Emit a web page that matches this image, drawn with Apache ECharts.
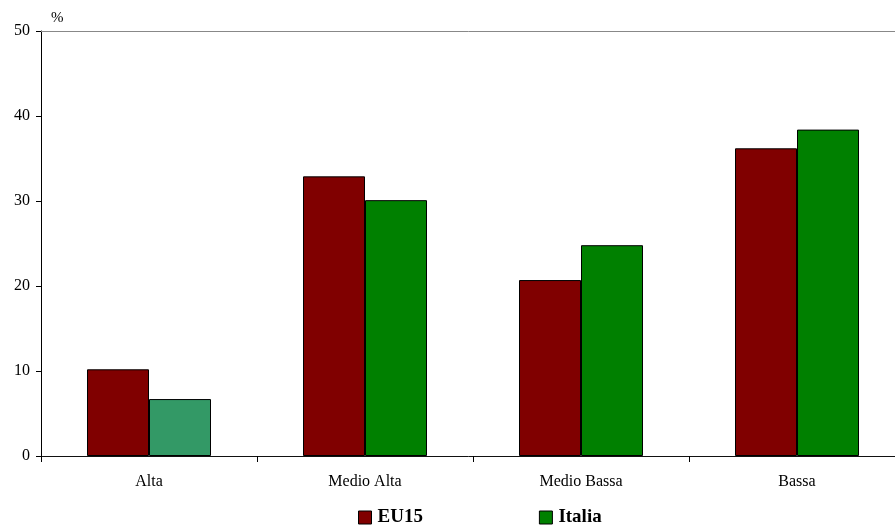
<!DOCTYPE html>
<html>
<head>
<meta charset="utf-8">
<script src="https://cdn.jsdelivr.net/npm/echarts@6/dist/echarts.min.js"></script>
<style>
  html, body { margin: 0; padding: 0; background: #fff; }
  #chart { width: 895px; height: 525px; }
</style>
</head>
<body>
<div id="chart"></div>
<script>
// Quote per livello tecnologico (%)
const categories = ['Alta', 'Medio Alta', 'Medio Bassa', 'Bassa'];
const eu15 = [10.2, 32.9, 20.7, 36.2];
const italia = [6.7, 30.1, 24.8, 38.4];
const yTicks = [0, 10, 20, 30, 40, 50];

const font = '"Liberation Serif", "Times New Roman", serif';
const chart = echarts.init(document.getElementById('chart'));

chart.setOption({
  animation: false,
  backgroundColor: '#ffffff',
  // plot area runs slightly past the right edge of the canvas
  grid: { left: 41, width: 864, top: 31, height: 425, containLabel: false, outerBoundsMode: 'none' },
  legend: {
    top: 503,
    left: 353,
    itemWidth: 13,
    itemHeight: 13,
    itemGap: 116,
    icon: 'rect',
    textStyle: { fontFamily: font, fontSize: 19, fontWeight: 'bold', color: '#000', padding: [0, 0, 0, 1] },
    itemStyle: { borderColor: '#000', borderWidth: 1 },
    data: ['EU15', 'Italia']
  },
  xAxis: [{
    type: 'category',
    data: categories,
    axisLine: { lineStyle: { color: '#111', width: 1 } },
    axisTick: { show: true, alignWithLabel: false, length: 6, lineStyle: { color: '#000' } },
    axisLabel: { fontFamily: font, fontSize: 16, color: '#000', margin: 18 }
  }, {
    type: 'category',
    position: 'top',
    data: categories,
    axisLine: { show: true, lineStyle: { color: '#888', width: 1 } },
    axisTick: { show: false },
    axisLabel: { show: false }
  }],
  yAxis: {
    type: 'value',
    min: 0,
    max: 50,
    interval: 10,
    name: '%',
    nameLocation: 'end',
    nameGap: 5,
    nameTextStyle: { fontFamily: font, fontSize: 15, color: '#000', align: 'left', padding: [0, 0, 0, 10] },
    axisLine: { show: true, lineStyle: { color: '#000', width: 1 } },
    axisTick: { show: true, inside: false, length: 5, lineStyle: { color: '#000' } },
    axisLabel: {
      fontFamily: font, fontSize: 16, color: '#000', margin: 11,
      formatter: v => (yTicks.indexOf(v) >= 0 ? String(v) : '')
    },
    splitLine: { show: false }
  },
  series: [{
    name: 'EU15',
    type: 'bar',
    data: eu15,
    barWidth: 62,
    barGap: '0%',
    itemStyle: { color: '#800000', borderColor: '#000', borderWidth: 1 }
  }, {
    name: 'Italia',
    type: 'bar',
    data: italia.map((v, i) => i === 0
      ? { value: v, itemStyle: { color: '#339966' } }
      : v),
    barWidth: 62,
    barGap: '0%',
    itemStyle: { color: '#008000', borderColor: '#000', borderWidth: 1 }
  }]
});
</script>
</body>
</html>
